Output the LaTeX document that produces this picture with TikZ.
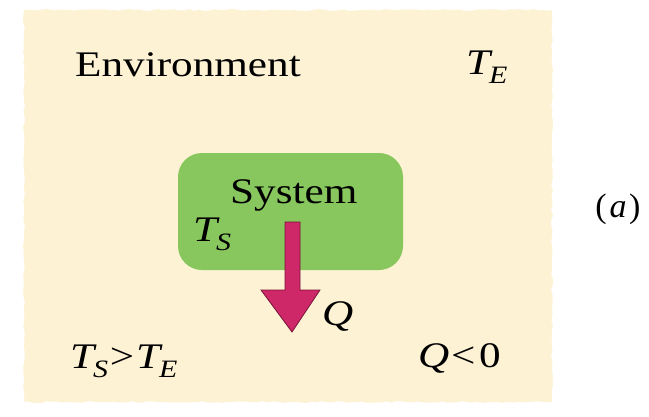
\documentclass[tikz,border=0pt]{standalone}
\usepackage{fontspec}
\setmainfont{Liberation Serif}[FakeStretch=1.2]
\newfontfamily\plainserif{Liberation Serif}
\usetikzlibrary{decorations.pathmorphing}
\definecolor{paper}{RGB}{253,242,212}
\definecolor{sysgreen}{RGB}{136,198,94}
\definecolor{heat}{RGB}{206,40,104}
\definecolor{heatdark}{RGB}{120,20,55}
\newcommand\lowsub[1]{\raisebox{-0.26em}{\fontsize{25}{27}\selectfont\itshape #1}}
\newcommand\tvar[1]{\textit{T}\kern-0.1em\lowsub{#1}}
\begin{document}
\begin{tikzpicture}[x=1pt,y=-1pt,
  lbl/.style={anchor=base west, inner sep=0pt, font=\fontsize{36}{40}\selectfont}]
\useasboundingbox (0,0) rectangle (649,416);
\fill[white] (0,0) rectangle (649,416);
\pgfmathsetseed{7}
\fill[paper, decorate, decoration={random steps, segment length=5pt, amplitude=0.9pt}]
  (24,10) -- (552,10) -- (552,402) -- (24,402) -- cycle;
\node[fill=sysgreen, rounded corners=24pt, minimum width=225pt, minimum height=117pt, inner sep=0pt] (sys) at (290.5,211.5) {};
\node[lbl] (env) at (75,76) {Environment};
\node[lbl] (te) at (466,74) {\tvar{E}};
\node[lbl] (systxt) at (230,203) {System};
\node[lbl] (ts) at (193,241) {\tvar{S}};
\node[lbl] (q) at (322,325) {\textit{Q}};
\node[lbl] (cond) at (70,368) {\tvar{S}\kern0.05em>\kern0.05em\tvar{E}};
\node[lbl] (qneg) at (418,367) {\textit{Q}\kern0.05em<\kern0.1em0};
\node[lbl, anchor=base, font=\fontsize{34}{38}\selectfont\plainserif] (a) at (618,217) {(\kern0.08em\textit{a}\kern0.08em)};
\coordinate (s1) at (285,222);
\coordinate (s2) at (300,222);
\coordinate (s3) at (300,290);
\coordinate (h1) at (320,290);
\coordinate (tip) at (292,332);
\coordinate (h2) at (261,290);
\coordinate (s4) at (285,290);
\draw[fill=heat, draw=heatdark, line width=0.8pt, line join=miter]
  (s1) -- (s2) -- (s3) -- (h1) -- (tip) -- (h2) -- (s4) -- cycle;
\end{tikzpicture}
\end{document}
